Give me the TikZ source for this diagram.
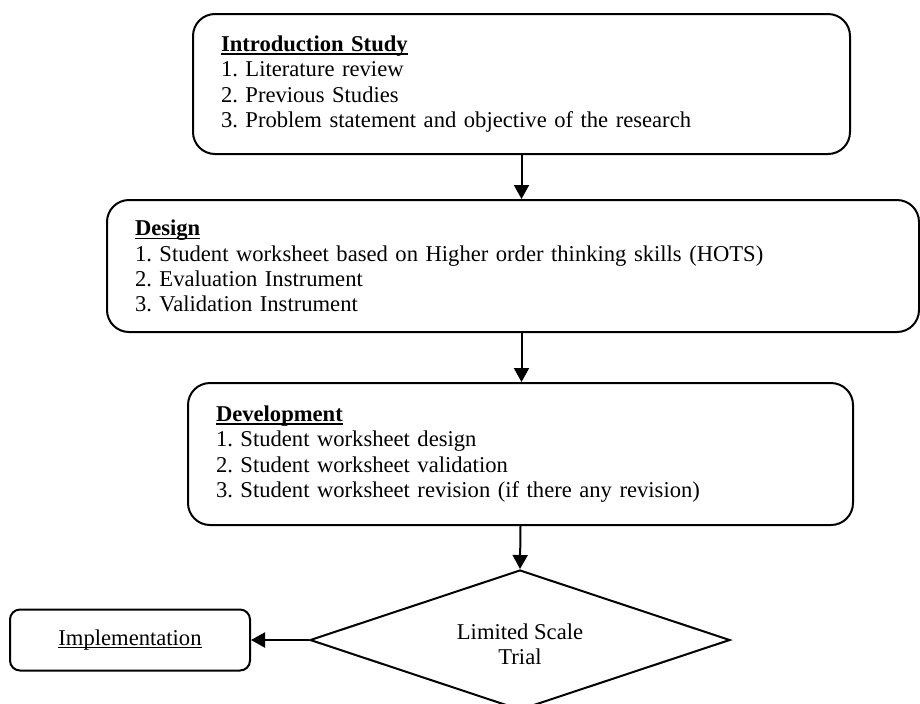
\documentclass[tikz,border=0pt]{standalone}
\usepackage{fontspec}
\setmainfont{Liberation Serif}
\usetikzlibrary{shapes.geometric,arrows.meta}

% underline set close to the baseline
\newcommand{\headline}[1]{\setbox0\hbox{#1}\rlap{\rule[-1.5pt]{\wd0}{0.6pt}}\box0}

\tikzset{
  stagebox/.style={draw,line width=1pt,rounded corners=11pt,align=left,
    inner xsep=14pt,inner ysep=0pt,font=\fontsize{11.3}{12.6}\selectfont\frenchspacing},
  flowarrow/.style={line width=1pt,-{Triangle[width=7.5pt,length=7pt]}}
}

\begin{document}
\begin{tikzpicture}[x=0.5pt,y=-0.5pt]
\useasboundingbox (0,0) rectangle (920,703);

\node [stagebox,text width=300.5pt,minimum height=70pt] (intro) at (521.5,84)
  {\headline{\textbf{Introduction Study}}\\
   1. Literature review\\
   2. Previous Studies\\
   3. Problem statement and objective of the research};

\node [stagebox,text width=378pt,minimum height=66pt] (design) at (513,266)
  {\headline{\textbf{Design}}\\
   1. Student worksheet based on Higher order thinking skills (HOTS)\\
   2. Evaluation Instrument\\
   3. Validation Instrument};

\node [stagebox,text width=304.5pt,minimum height=71pt] (devel) at (520.5,454)
  {\headline{\textbf{Development}}\\
   1. Student worksheet design\\
   2. Student worksheet validation\\
   3. Student worksheet revision (if there any revision)};

\node [draw,line width=1pt,diamond,aspect=3,inner sep=0pt,minimum width=210pt,
  minimum height=70pt,align=center,font=\fontsize{11.3}{12.6}\selectfont] (trial) at (520,640)
  {\rule{0pt}{12pt}Limited Scale\\Trial};

\node [draw,line width=1pt,rounded corners=5pt,minimum width=120pt,minimum height=30.5pt,
  inner sep=0pt,font=\fontsize{11.3}{12.6}\selectfont] (impl) at (130,640)
  {\headline{Implementation}};

\draw [flowarrow] (intro.south) -- (intro.south |- design.north);
\draw [flowarrow] (intro.south |- design.south) -- (intro.south |- devel.north);
\draw [flowarrow] (devel.south) -- (trial.north);
\draw [flowarrow] (trial.west) -- (impl.east);
\end{tikzpicture}
\end{document}
